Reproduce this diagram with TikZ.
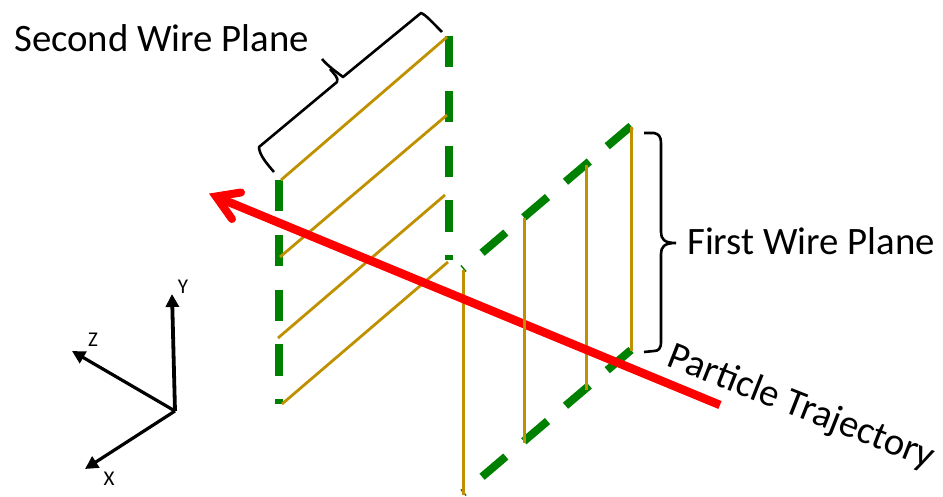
\documentclass[tikz,border=0pt]{standalone}
\usepackage{fontspec}
\setmainfont{Carlito}
\usetikzlibrary{arrows.meta}
\definecolor{wiregold}{HTML}{BF9000}
\definecolor{planegreen}{HTML}{008000}
\tikzset{
  planeedge/.style={draw=planegreen,line width=8pt,dash pattern=on 31.2pt off 23.6pt},
  wire/.style={draw=wiregold,line width=2.8pt},
  bracket/.style={draw=black,line width=2.6pt,line join=round},
  axisline/.style={draw=black,line width=3.2pt,-{Triangle[length=13pt,width=13pt]}},
  bigtext/.style={font=\fontsize{38.8}{44}\selectfont,inner sep=0pt,text=black},
  axistext/.style={font=\fontsize{21}{24}\selectfont,inner sep=0pt,text=black},
  trajectory/.style={draw=red,line width=8.5pt}
}
\begin{document}
\begin{tikzpicture}[x=1pt,y=-1pt]
\useasboundingbox (0,0) rectangle (943,497);
% corner coordinates
\coordinate (sa) at (279,180); \coordinate (sb) at (279,404);
\coordinate (sc) at (449,36);  \coordinate (sd) at (449,260);
\coordinate (fa) at (631,126); \coordinate (fb) at (463,269);
\coordinate (fc) at (631,350); \coordinate (fd) at (463,493);
% second wire plane
\path[planeedge] (sa) -- (sb);
\path[planeedge] (sc) -- (sd);
\coordinate (w1a) at (281,180); \coordinate (w1b) at (447,37);
\coordinate (w2a) at (280,257); \coordinate (w2b) at (447,115);
\coordinate (w3a) at (278,338); \coordinate (w3b) at (445,195);
\coordinate (w4a) at (282,404); \coordinate (w4b) at (448,262);
\path[wire] (w1a) -- (w1b);
\path[wire] (w2a) -- (w2b);
\path[wire] (w3a) -- (w3b);
\path[wire] (w4a) -- (w4b);
% first wire plane
\path[planeedge] (fa) -- (fb);
\path[planeedge] (fc) -- (fd);
\coordinate (v1a) at (463.5,270); \coordinate (v1b) at (463.5,495);
\coordinate (v2a) at (524.5,218); \coordinate (v2b) at (524.5,443);
\coordinate (v3a) at (586.5,165); \coordinate (v3b) at (586.5,390);
\coordinate (v4a) at (631.5,127); \coordinate (v4b) at (631.5,351);
\path[wire] (v1a) -- (v1b);
\path[wire] (v3a) -- (v3b);
\path[wire] (v4a) -- (v4b);
% trajectory
\coordinate (ts) at (720,405); \coordinate (te) at (219,198);
\path[trajectory] (ts) -- (te);
\path[draw=red,line width=8pt,line cap=round,miter limit=10] (241,192.5) -- (216,196.5) -- (232,219);
\path[wire] (v2a) -- (v2b);
% braces
\path[bracket] (442,32) .. controls (432,22) and (426,15) .. (421,13) -- (343,77) .. controls (335,71) and (328,66) .. (322,59);
\path[bracket] (330,69) .. controls (334,74) and (339,78) .. (337,82) -- (259,147) .. controls (259,155) and (268,165) .. (274,172);
\path[bracket] (644,133) -- (654,133) .. controls (659,134) and (661,137) .. (661,143) -- (661,232) .. controls (661,239) and (664,243) .. (676,243)
  (676,243) .. controls (664,243) and (661,247) .. (661,254) -- (661,342) .. controls (661,349) and (658,351) .. (654,351) -- (644,352);
% labels
\node[bigtext,anchor=base west] (second) at (14,52) {Second Wire Plane};
\node[bigtext,anchor=base west] (first) at (687,255) {First Wire Plane};
\node[bigtext,rotate=-21.5] (particle) at (801,408) {Particle Trajectory};
% axes
\coordinate (o) at (175,411);
\coordinate (ay) at (172,294); \coordinate (az) at (72,351); \coordinate (ax) at (85,469);
\path[axisline,line width=3.8pt] (o) -- (ay);
\path[axisline] (o) -- (az);
\path[axisline] (o) -- (ax);
\node[axistext] (ylabel) at (183,287) {Y};
\node[axistext] (zlabel) at (93,340) {Z};
\node[axistext] (xlabel) at (109,479) {X};
\end{tikzpicture}
\end{document}
